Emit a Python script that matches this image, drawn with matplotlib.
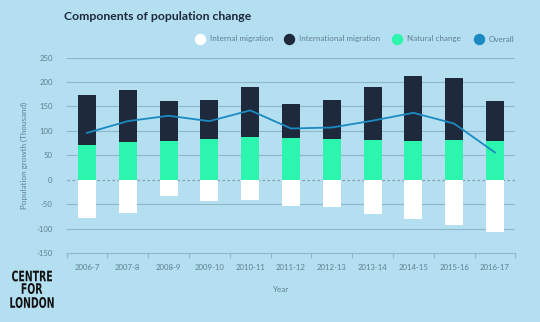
import numpy as np
import matplotlib.pyplot as plt
import matplotlib.transforms as mtransforms
from matplotlib.textpath import TextPath
from matplotlib.patches import PathPatch
from matplotlib.font_manager import FontProperties

# Components of population change, thousands
years = ['2006-7', '2007-8', '2008-9', '2009-10', '2010-11', '2011-12',
         '2012-13', '2013-14', '2014-15', '2015-16', '2016-17']
internal = [-78, -67, -33, -44, -41, -53, -56, -69, -79, -93, -106]
natural = [72, 77, 80, 84, 87, 86, 84, 82, 79, 82, 79]
international = [101, 107, 81, 80, 102, 70, 80, 107, 134, 126, 82]
overall = [96, 120, 131, 120, 142, 105, 107, 121, 137, 115, 56]
y_ticks = [-150, -100, -50, 0, 50, 100, 150, 200, 250]
legend_labels = ['Internal migration', 'International migration', 'Natural change', 'Overall']

bg = '#b3dff1'
navy = '#1e2a3b'
green = '#2cf5ae'
blue = '#1b8ac2'
grid_c = '#8fb7cb'
text_c = '#5f7f90'

plt.rcParams['font.family'] = ['Lato', 'DejaVu Sans']

W, H = 540, 322
fig = plt.figure(figsize=(5.4, 3.22), dpi=100, facecolor=bg)
ax = fig.add_axes([0.1233, 0.2133, 0.8311, 0.6081])
ax.set_facecolor(bg)

x = np.arange(len(years))
w = 0.44
ax.bar(x, internal, w, color='white', zorder=3)
ax.bar(x, natural, w, color=green, zorder=3)
ax.bar(x, international, w, bottom=natural, color=navy, zorder=3)
ax.plot(x, overall, color=blue, linewidth=1.3, zorder=4)

ax.set_xlim(-0.5, len(years) - 0.5)
ax.set_ylim(-150, 250)
ax.set_yticks(y_ticks)
ax.set_yticklabels([str(v) for v in y_ticks])
for v in y_ticks[1:]:
    if v == 0:
        ax.axhline(0, color='#8a9fae', linewidth=0.9, linestyle=(0, (2, 2)), zorder=2)
    else:
        ax.axhline(v, color=grid_c, linewidth=0.8, zorder=1)

ax.set_xticks(x)
ax.set_xticklabels(years)
ax.set_xticks(np.arange(len(years) + 1) - 0.5, minor=True)
ax.tick_params(axis='x', which='major', length=0, pad=8, labelsize=5.6, colors=text_c)
ax.tick_params(axis='x', which='minor', length=3.5, width=0.8, color=grid_c)
ax.tick_params(axis='y', length=0, pad=10, labelsize=5.6, colors=text_c)

for s in ['top', 'right', 'left']:
    ax.spines[s].set_visible(False)
ax.spines['bottom'].set_color(grid_c)
ax.spines['bottom'].set_linewidth(0.8)

fig.text(24 / W, 1 - 155 / H, 'Population growth (Thousand)', rotation=90,
         ha='center', va='center', fontsize=5.8, color=text_c)
fig.text(281 / W, 1 - 290 / H, 'Year', ha='center', va='center',
         fontsize=5.8, color=text_c)

fig.text(64 / W, 1 - 16 / H, 'Components of population change',
         ha='left', va='center', fontsize=8.8, fontweight='bold', color=navy)

# legend, placed by hand
leg_colors = ['white', navy, green, blue]
leg_x = [200, 289, 397, 479]
for lx, col, lab in zip(leg_x, leg_colors, legend_labels):
    fig.add_artist(plt.Line2D([lx / W], [1 - 39 / H], marker='o', markersize=7.2,
                              markerfacecolor=col, markeredgecolor=col, linestyle='',
                              transform=fig.transFigure))
    fig.text((lx + 10) / W, 1 - 39 / H, lab, ha='left', va='center',
             fontsize=5.8, color=text_c)

# logo, condensed by squashing text paths
fp = FontProperties(family='DejaVu Sans', weight='bold')
cap_h = 11.0
ref = TextPath((0, 0), 'CENTRE', size=1, prop=fp).get_extents()
sy = cap_h / ref.height
sx = 40.0 / ref.width
for txt, yc in [('CENTRE', 276), ('FOR', 288.5), ('LONDON', 302.5)]:
    tp = TextPath((0, 0), txt, size=1, prop=fp)
    e = tp.get_extents()
    tr = (mtransforms.Affine2D()
          .translate(-(e.x0 + e.width / 2), -(e.y0 + e.height / 2))
          .scale(sx, sy)
          .translate(32, H - yc))
    fig.add_artist(PathPatch(tp, transform=tr, facecolor='#111111', edgecolor='none'))

fig.savefig('out.png', dpi=100, facecolor=bg)
